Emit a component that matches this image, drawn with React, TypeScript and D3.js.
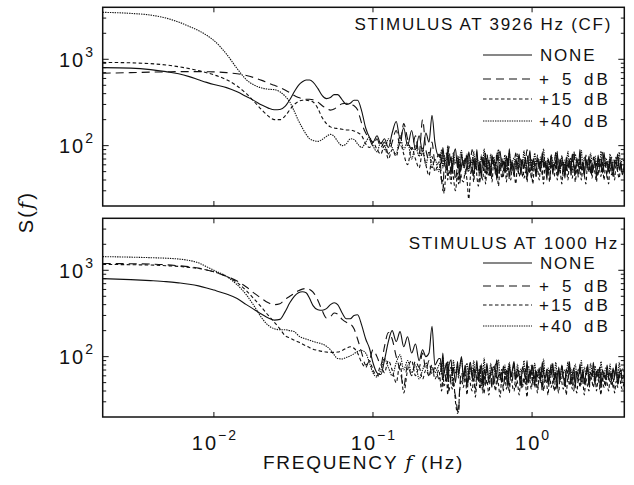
import React from 'react';
import * as d3 from 'd3';

// ---------------- data ----------------
const FREQ_LOW = [0.002, 0.003, 0.004, 0.005, 0.006, 0.007, 0.008, 0.009, 0.010, 0.012, 0.014, 0.016, 0.018, 0.020, 0.022, 0.024, 0.026, 0.028];
const FREQ_MID = [0.030, 0.032, 0.034, 0.036, 0.038, 0.040, 0.042, 0.045, 0.048, 0.051, 0.054, 0.057, 0.060, 0.064, 0.068, 0.072, 0.076, 0.080, 0.085, 0.090,
  0.095, 0.100, 0.106, 0.112, 0.118, 0.125, 0.132, 0.140, 0.148, 0.156, 0.165, 0.175, 0.185, 0.195, 0.205, 0.215, 0.225, 0.235, 0.245, 0.26];
const FREQ_HIGH = [
  0.265, 0.27, 0.275, 0.28, 0.29, 0.295, 0.30, 0.31, 0.315, 0.32,
  0.33, 0.34, 0.345, 0.35, 0.36, 0.37, 0.38, 0.39, 0.40, 0.41,
  0.42, 0.43, 0.44, 0.45, 0.46, 0.47, 0.48, 0.49, 0.50, 0.51,
  0.52, 0.535, 0.55, 0.56, 0.575, 0.59, 0.60, 0.615, 0.63, 0.645,
  0.66, 0.675, 0.69, 0.705, 0.72, 0.735, 0.75, 0.77, 0.79, 0.81,
  0.83, 0.85, 0.87, 0.89, 0.91, 0.93, 0.95, 0.97, 0.99, 1.01,
  1.04, 1.06, 1.08, 1.11, 1.13, 1.16, 1.18, 1.21, 1.24, 1.26,
  1.29, 1.32, 1.35, 1.38, 1.41, 1.44, 1.47, 1.50, 1.54, 1.57,
  1.61, 1.64, 1.68, 1.72, 1.75, 1.79, 1.83, 1.87, 1.91, 1.96,
  2.00, 2.04, 2.09, 2.13, 2.18, 2.23, 2.28, 2.33, 2.38, 2.43,
  2.49, 2.54, 2.60, 2.66, 2.71, 2.77, 2.83, 2.90, 2.96, 3.03,
  3.09, 3.16, 3.23, 3.30, 3.38, 3.45, 3.53, 3.61, 3.69, 3.8];
const FREQ = [...FREQ_LOW, ...FREQ_MID, ...FREQ_HIGH];

// Top panel: stimulus at 3926 Hz (CF) — smooth/low part (low + mid grid)
const TOP_NONE_LM = [800, 790, 760, 720, 680, 630, 580, 540, 510, 470, 420, 370, 330, 295, 272, 260, 262, 285,
  340, 420, 500, 550, 575, 575, 545, 460, 380, 350, 360, 390, 390, 340, 300, 310, 335, 335, 250, 160,
  125, 110, 130, 105, 120, 95, 140, 190, 120, 160, 100, 150, 90, 130, 85, 140, 110, 225, 110, 75];
const TOP_P5_LM = [690, 700, 710, 715, 720, 720, 720, 718, 715, 700, 680, 650, 610, 570, 530, 500, 470, 440,
  410, 380, 360, 350, 345, 345, 340, 320, 290, 270, 258, 265, 285, 305, 310, 300, 290, 260, 180, 140,
  120, 100, 120, 95, 110, 80, 110, 150, 100, 180, 120, 90, 130, 80, 200, 90, 70, 110, 65, 80];
const TOP_P15_LM = [920, 910, 890, 860, 820, 780, 740, 700, 660, 580, 490, 400, 320, 260, 220, 200, 200, 220,
  260, 300, 325, 335, 335, 330, 320, 270, 210, 180, 165, 160, 158, 155, 152, 152, 148, 142, 130, 105,
  95, 110, 90, 80, 100, 70, 90, 75, 110, 80, 60, 95, 70, 55, 85, 60, 45, 75, 50, 65];
const TOP_P40_LM = [3500, 3400, 3250, 3000, 2700, 2400, 2150, 1900, 1650, 1150, 780, 580, 500, 465, 450, 445, 420, 375,
  320, 250, 195, 160, 135, 120, 115, 112, 118, 128, 135, 128, 112, 100, 105, 120, 118, 105, 95, 110,
  125, 100, 85, 110, 90, 120, 95, 80, 130, 90, 110, 70, 100, 75, 95, 60, 85, 55, 70, 50];
// Top panel — noisy high-frequency part (FREQ_HIGH grid)
const TOP_NONE_HI = [
  80, 62, 95, 70, 52, 88, 60, 75, 48, 70,
  92, 55, 68, 45, 80, 58, 72, 50, 85, 62,
  48, 70, 56, 90, 52, 66, 42, 74, 60, 82,
  50, 68, 45, 78, 58, 64, 40, 72, 86, 55,
  66, 48, 76, 58, 92, 50, 62, 44, 70, 60,
  80, 46, 66, 55, 74, 42, 62, 88, 52, 68,
  58, 44, 72, 64, 50, 84, 56, 66, 40, 70,
  60, 78, 48, 62, 55, 86, 46, 70, 58, 64,
  42, 74, 56, 68, 50, 80, 60, 46, 72, 56,
  90, 52, 64, 44, 70, 58, 76, 48, 62, 54,
  68, 42, 78, 56, 62, 48, 84, 58, 66, 50,
  72, 56, 44, 68, 60, 80, 52, 64, 46, 62];
const TOP_P5_HI = [
  65, 40, 30, 58, 82, 50, 98, 45, 60, 72,
  40, 62, 78, 36, 58, 70, 46, 82, 55, 64,
  90, 44, 68, 52, 60, 38, 74, 56, 66, 48,
  80, 54, 42, 70, 62, 50, 86, 46, 60, 72,
  44, 64, 56, 76, 40, 68, 52, 60, 82, 48,
  62, 70, 44, 58, 66, 90, 50, 56, 42, 72,
  60, 48, 78, 54, 66, 46, 62, 74, 52, 58,
  40, 70, 56, 64, 82, 48, 60, 54, 76, 44,
  66, 58, 50, 72, 46, 62, 88, 54, 60, 42,
  70, 56, 64, 48, 78, 52, 60, 68, 44, 74,
  56, 62, 46, 70, 58, 84, 50, 64, 42, 68,
  54, 74, 48, 60, 66, 50, 72, 56, 62, 58];
const TOP_P15_HI = [
  55, 38, 40, 28, 62, 40, 52, 36, 58, 44,
  30, 48, 36, 60, 42, 38, 50, 40, 24, 45,
  56, 38, 72, 44, 34, 60, 48, 40, 66, 36,
  52, 44, 62, 38, 70, 46, 56, 34, 60, 42,
  50, 66, 38, 58, 46, 40, 64, 52, 36, 60,
  44, 56, 70, 42, 50, 38, 62, 48, 58, 36,
  66, 44, 54, 40, 60, 50, 36, 64, 46, 56,
  38, 62, 48, 44, 70, 40, 56, 52, 36, 60,
  46, 58, 40, 66, 50, 42, 62, 38, 54, 48,
  64, 40, 56, 46, 36, 60, 50, 70, 42, 54,
  48, 38, 62, 52, 44, 66, 40, 58, 48, 36,
  60, 46, 54, 40, 64, 50, 42, 58, 52, 48];
const TOP_P40_HI = [
  70, 90, 55, 78, 60, 100, 58, 72, 50, 84,
  62, 76, 54, 68, 88, 56, 64, 80, 50, 72,
  60, 86, 54, 70, 64, 48, 78, 62, 92, 56,
  68, 52, 80, 60, 74, 56, 66, 90, 52, 70,
  62, 78, 50, 68, 84, 58, 64, 72, 54, 80,
  56, 70, 62, 88, 52, 66, 76, 58, 70, 50,
  82, 60, 68, 54, 74, 64, 92, 56, 62, 72,
  52, 78, 66, 58, 84, 60, 70, 50, 76, 62,
  68, 56, 86, 60, 72, 52, 66, 80, 58, 70,
  62, 88, 54, 74, 60, 68, 50, 82, 64, 56,
  76, 60, 70, 54, 86, 62, 58, 72, 66, 52,
  80, 58, 68, 62, 74, 54, 84, 60, 70, 64];

// Bottom panel: stimulus at 1000 Hz — smooth/low part
const BOT_NONE_LM = [800, 780, 760, 740, 715, 690, 660, 625, 590, 530, 470, 400, 350, 310, 280, 265, 270, 330,
  420, 500, 550, 565, 550, 470, 390, 350, 345, 360, 400, 420, 400, 320, 275, 275, 300, 305, 230, 160,
  125, 85, 65, 62, 90, 150, 200, 150, 195, 130, 170, 110, 140, 90, 120, 100, 110, 225, 80, 95];
const BOT_P5_LM = [1200, 1190, 1180, 1160, 1130, 1100, 1060, 1010, 960, 850, 750, 640, 540, 470, 420, 400, 410, 460,
  500, 540, 580, 605, 615, 600, 560, 450, 340, 280, 290, 320, 310, 270, 250, 240, 210, 160, 110, 80,
  90, 120, 100, 80, 130, 190, 160, 100, 70, 45, 80, 60, 90, 75, 110, 70, 90, 60, 75, 55];
const BOT_P15_LM = [1170, 1160, 1150, 1130, 1110, 1080, 1050, 1010, 960, 850, 720, 580, 460, 370, 300, 250, 210, 175,
  165, 155, 148, 140, 133, 127, 122, 118, 115, 113, 112, 112, 113, 118, 125, 130, 125, 110, 85, 75,
  90, 70, 60, 80, 65, 90, 70, 50, 85, 38, 70, 90, 60, 75, 55, 70, 60, 80, 55, 70];
const BOT_P40_LM = [1440, 1420, 1400, 1380, 1350, 1300, 1220, 1100, 1000, 850, 680, 520, 380, 280, 230, 210, 205, 205,
  200, 195, 175, 165, 160, 155, 150, 145, 140, 132, 120, 105, 95, 94, 98, 102, 108, 115, 118, 110,
  85, 65, 58, 70, 95, 75, 60, 85, 105, 70, 90, 65, 80, 55, 70, 85, 60, 75, 65, 80];
// Bottom panel — noisy high-frequency part
const BOT_NONE_HI = [
  95, 70, 110, 65, 85, 55, 78, 92, 60, 75,
  50, 88, 62, 72, 100, 58, 80, 48, 70, 86,
  56, 74, 64, 90, 52, 68, 80, 46, 72, 60,
  84, 54, 66, 76, 48, 70, 92, 58, 64, 50,
  78, 62, 70, 44, 82, 58, 68, 88, 54, 72,
  60, 48, 76, 66, 56, 90, 50, 70, 62, 80,
  46, 68, 58, 74, 52, 86, 64, 56, 72, 48,
  70, 62, 84, 54, 66, 42, 76, 58, 80, 60,
  52, 72, 64, 88, 50, 62, 74, 46, 68, 58,
  82, 56, 70, 48, 64, 78, 54, 66, 60, 86,
  50, 68, 58, 76, 44, 70, 62, 54, 80, 60,
  66, 52, 74, 58, 84, 48, 64, 70, 56, 62];
const BOT_P5_HI = [
  60, 82, 45, 70, 52, 88, 40, 64, 75, 48,
  35, 24, 22, 40, 66, 50, 78, 44, 60, 86,
  52, 70, 42, 62, 56, 80, 46, 68, 38, 60,
  74, 50, 58, 44, 66, 82, 48, 60, 54, 70,
  40, 62, 56, 76, 46, 64, 52, 84, 44, 60,
  68, 42, 58, 50, 72, 46, 62, 54, 80, 48,
  60, 70, 44, 56, 66, 40, 74, 52, 62, 46,
  58, 82, 48, 64, 42, 60, 70, 50, 56, 66,
  44, 62, 54, 76, 48, 58, 40, 68, 60, 52,
  72, 46, 64, 56, 50, 84, 44, 62, 58, 68,
  48, 60, 70, 42, 66, 54, 62, 46, 74, 56,
  52, 64, 44, 60, 70, 48, 58, 66, 50, 60];
const BOT_P15_HI = [
  52, 40, 64, 46, 58, 36, 66, 48, 42, 56,
  30, 22, 24, 38, 54, 44, 62, 36, 70, 48,
  40, 58, 34, 52, 64, 42, 56, 38, 60, 46,
  54, 36, 66, 44, 50, 40, 62, 48, 34, 58,
  46, 60, 42, 54, 38, 68, 48, 40, 58, 50,
  36, 62, 44, 56, 48, 34, 60, 52, 42, 66,
  44, 54, 38, 58, 50, 64, 40, 56, 46, 36,
  62, 44, 52, 40, 66, 48, 38, 58, 50, 42,
  56, 36, 60, 46, 54, 42, 64, 48, 38, 58,
  44, 62, 50, 36, 56, 46, 40, 60, 52, 44,
  64, 40, 54, 48, 36, 58, 44, 62, 50, 40,
  56, 46, 60, 38, 52, 44, 64, 48, 42, 54];
const BOT_P40_HI = [
  85, 62, 98, 70, 58, 88, 66, 76, 52, 90,
  64, 80, 56, 72, 94, 60, 68, 84, 54, 74,
  62, 90, 58, 76, 66, 50, 82, 64, 96, 58,
  70, 54, 84, 62, 78, 58, 68, 92, 56, 72,
  64, 80, 52, 70, 86, 60, 66, 76, 56, 82,
  58, 72, 64, 90, 54, 68, 78, 60, 74, 52,
  84, 62, 70, 56, 76, 66, 94, 58, 64, 74,
  54, 80, 68, 60, 86, 62, 72, 52, 78, 64,
  70, 58, 88, 62, 74, 54, 68, 82, 60, 72,
  64, 90, 56, 76, 62, 70, 52, 84, 66, 58,
  78, 62, 72, 56, 88, 64, 60, 74, 68, 54,
  82, 60, 70, 64, 76, 56, 86, 62, 72, 66];

const SERIES_NAMES = ['NONE', '+ 5 dB', '+15 dB', '+40 dB'];
const SERIES_NUM = ['', '5', '15', '40'];
const PANEL_TITLES = ['STIMULUS AT 3926 Hz (CF)', 'STIMULUS AT 1000 Hz'];
const PANEL_SERIES = [
  [[...TOP_NONE_LM, ...TOP_NONE_HI], [...TOP_P5_LM, ...TOP_P5_HI], [...TOP_P15_LM, ...TOP_P15_HI], [...TOP_P40_LM, ...TOP_P40_HI]],
  [[...BOT_NONE_LM, ...BOT_NONE_HI], [...BOT_P5_LM, ...BOT_P5_HI], [...BOT_P15_LM, ...BOT_P15_HI], [...BOT_P40_LM, ...BOT_P40_HI]],
];
const X_TICKS = [0.01, 0.1, 1];
const X_TICK_EXP = ['\u22122', '\u22121', '0'];
const Y_TICKS = [100, 1000];
const Y_TICK_EXP = ['2', '3'];
const X_LABEL = 'FREQUENCY';
const Y_LABEL = 'S';

// ---------------- layout ----------------
const W = 634, H = 485;
const X0 = 102.7, X1 = 624.3;
const PANELS = [
  { top: 7.3, bottom: 206, titleY: 24, titleX: 612, rowY: [55, 79, 99, 121] },
  { top: 218.3, bottom: 417, titleY: 242.5, titleX: 619, rowY: [263, 286, 305, 326] },
];
const DASHES = ['none', '8,5', '3.5,2.5', '1.4,1'];
const FONT = "'Liberation Sans', Arial, Helvetica, sans-serif";
const LS = (v: number) => ({ letterSpacing: `${v}px` });

const x = d3.scaleLog().domain([0.002, 3.8]).range([X0, X1]);

function Panel({ idx }: { idx: number }) {
  const p = PANELS[idx];
  const y = d3.scaleLog().domain([20, 4000]).range([p.bottom, p.top]);
  const line = d3
    .line<[number, number]>()
    .x((d) => x(d[0]))
    .y((d) => y(d[1]))
    .curve(d3.curveMonotoneX);
  const yt = y.ticks().filter((v) => v > 20 && v < 4000);
  const clipId = `clip${idx}`;
  return (
    <g>
      <defs>
        <clipPath id={clipId}>
          <rect x={X0} y={p.top} width={X1 - X0} height={p.bottom - p.top} />
        </clipPath>
      </defs>
      <g clipPath={`url(#${clipId})`}>
        {PANEL_SERIES[idx].map((vals, i) => (
          <path
            key={i}
            d={line(d3.zip(FREQ, vals) as [number, number][]) || ''}
            fill="none"
            stroke="#111"
            strokeWidth={1.1}
            strokeDasharray={DASHES[i]}
          />
        ))}
      </g>
      <rect x={X0} y={p.top} width={X1 - X0} height={p.bottom - p.top} fill="none" stroke="#111" strokeWidth={1.5} />
      {yt.map((v) => {
        const major = Math.abs(Math.log10(v) - Math.round(Math.log10(v))) < 1e-9;
        const len = major ? 6 : 3.5;
        return (
          <g key={v}>
            <line x1={X0} x2={X0 + len} y1={y(v)} y2={y(v)} stroke="#111" strokeWidth={1} />
            <line x1={X1} x2={X1 - len} y1={y(v)} y2={y(v)} stroke="#111" strokeWidth={1} />
          </g>
        );
      })}
      {X_TICKS.map((v) => (
        <g key={v}>
          <line x1={x(v)} x2={x(v)} y1={p.top} y2={p.top + 5} stroke="#111" strokeWidth={1} />
          <line x1={x(v)} x2={x(v)} y1={p.bottom} y2={p.bottom - 5} stroke="#111" strokeWidth={1} />
        </g>
      ))}
      {Y_TICKS.map((v, i) => (
        <text key={v} x={95} y={y(v) + 7.3} textAnchor="end" fontSize={20} style={LS(2)} fill="#111">
          10<tspan dy={-10} fontSize={14}>{Y_TICK_EXP[i]}</tspan>
        </text>
      ))}
      <text x={p.titleX} y={p.titleY + 6} textAnchor="end" fontSize={17} style={LS(1.7)} fill="#111">
        {PANEL_TITLES[idx]}
      </text>
      {SERIES_NAMES.map((name, i) => {
        const ry = p.rowY[i];
        return (
          <g key={name}>
            <line x1={483} x2={532} y1={ry} y2={ry} stroke="#111" strokeWidth={1.1} strokeDasharray={DASHES[i]} />
            {SERIES_NUM[i] === '' ? (
              <text x={540} y={ry + 6} fontSize={17} style={LS(1.8)} fill="#111">{name}</text>
            ) : (
              <>
                <text x={539} y={ry + 6} fontSize={17} fill="#111">+</text>
                <text x={573} y={ry + 6} textAnchor="end" fontSize={17} style={LS(1.6)} fill="#111">
                  {SERIES_NUM[i]}
                </text>
                <text x={584} y={ry + 6} fontSize={17} style={LS(3)} fill="#111">dB</text>
              </>
            )}
          </g>
        );
      })}
    </g>
  );
}

export default function App() {
  const ybot = PANELS[1].bottom;
  return (
    <svg
      width={W}
      height={H}
      viewBox={`0 0 ${W} ${H}`}
      style={{ position: 'absolute', left: 0, top: 0, background: '#fff', fontFamily: FONT }}
    >
      <rect x={0} y={0} width={W} height={H} fill="#fff" />
      <Panel idx={0} />
      <Panel idx={1} />
      {X_TICKS.map((v, i) => (
        <text key={v} x={x(v) + 1} y={ybot + 33} textAnchor="middle" fontSize={20} style={LS(2)} fill="#111">
          10<tspan dy={-10} fontSize={14}>{X_TICK_EXP[i]}</tspan>
        </text>
      ))}
      <text x={(X0 + X1) / 2} y={ybot + 52} textAnchor="middle" fontSize={19} style={LS(1.8)} fill="#111">
        {X_LABEL} <tspan fontStyle="italic" fontFamily="'DejaVu Serif', serif">f</tspan> (Hz)
      </text>
      <text
        transform={`translate(33, ${(PANELS[0].top + ybot) / 2}) rotate(-90)`}
        textAnchor="middle"
        fontSize={20}
        style={LS(2)}
        fill="#111"
      >
        {Y_LABEL}(<tspan fontStyle="italic" fontFamily="'DejaVu Serif', serif">f</tspan>)
      </text>
    </svg>
  );
}
